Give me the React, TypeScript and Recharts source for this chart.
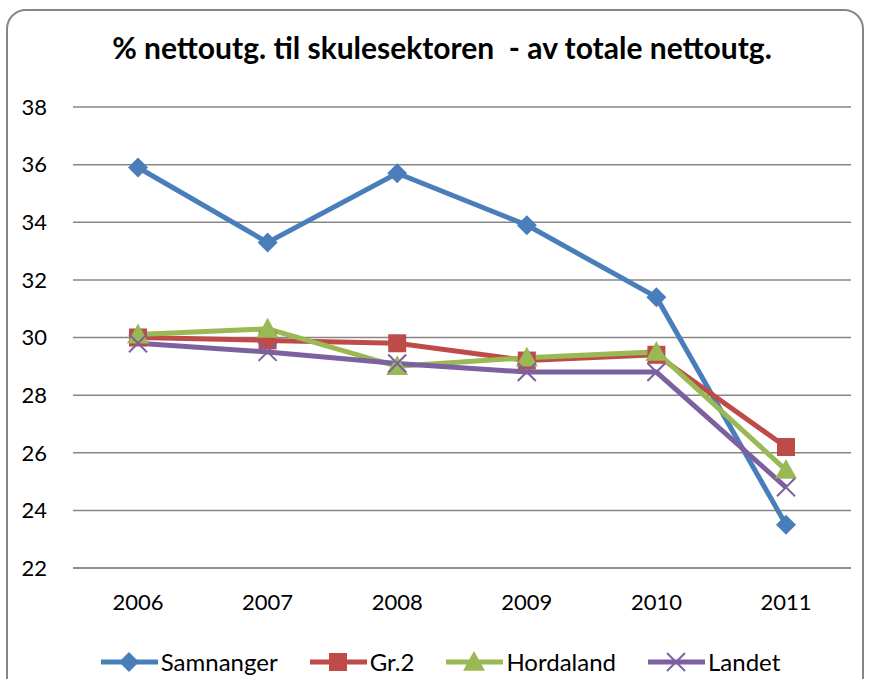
import React from 'react';
import { LineChart, Line, XAxis, YAxis, CartesianGrid, Legend } from 'recharts';

const years = ['2006', '2007', '2008', '2009', '2010', '2011'];
const samnanger = [35.9, 33.3, 35.7, 33.9, 31.4, 23.5];
const gr2 = [30.0, 29.9, 29.8, 29.2, 29.4, 26.2];
const hordaland = [30.1, 30.3, 29.0, 29.3, 29.5, 25.4];
const landet = [29.8, 29.5, 29.1, 28.8, 28.8, 24.8];
const yTicks = [22, 24, 26, 28, 30, 32, 34, 36, 38];

const seriesNames = ['Samnanger', 'Gr.2', 'Hordaland', 'Landet'];
const seriesKeys = ['samnanger', 'gr2', 'hordaland', 'landet'];
const seriesColors = ['#4A7EBB', '#BE4B48', '#98B954', '#7D60A0'];
const markerTypes = ['diamond', 'square', 'triangle', 'cross'];

const data = years.map((y, i) => ({
  year: y,
  samnanger: samnanger[i],
  gr2: gr2[i],
  hordaland: hordaland[i],
  landet: landet[i],
}));

const FONT = 'Lato, "Open Sans", sans-serif';

function Marker({ type, cx, cy, color }: { type: string; cx: number; cy: number; color: string }) {
  if (cx == null || cy == null) return null;
  if (type === 'diamond') {
    const s = 10;
    return <polygon points={`${cx},${cy - s} ${cx + s},${cy} ${cx},${cy + s} ${cx - s},${cy}`} fill={color} />;
  }
  if (type === 'square') {
    const s = 9;
    return <rect x={cx - s} y={cy - s} width={2 * s} height={2 * s} fill={color} />;
  }
  if (type === 'triangle') {
    const s = 11;
    return <polygon points={`${cx},${cy - s} ${cx + s},${cy + s * 0.8} ${cx - s},${cy + s * 0.8}`} fill={color} />;
  }
  const s = 9;
  return (
    <g stroke={color} strokeWidth={2}>
      <line x1={cx - s} y1={cy - s} x2={cx + s} y2={cy + s} />
      <line x1={cx - s} y1={cy + s} x2={cx + s} y2={cy - s} />
    </g>
  );
}

const makeDot = (idx: number) => (props: any) => (
  <Marker key={`${idx}-${props.index}`} type={markerTypes[idx]} cx={props.cx} cy={props.cy} color={seriesColors[idx]} />
);

function LegendContent() {
  return (
    <div style={{ display: 'flex', justifyContent: 'center', alignItems: 'center', fontFamily: FONT, fontSize: 24, lineHeight: '30px', color: '#000', paddingLeft: 30 }}>
      {seriesNames.map((n, i) => (
        <div key={n} style={{ display: 'flex', alignItems: 'center', marginRight: i < 3 ? 32 : 0 }}>
          <svg width={57} height={24}>
            <line x1={0} y1={12} x2={57} y2={12} stroke={seriesColors[i]} strokeWidth={5} />
            <Marker type={markerTypes[i]} cx={28} cy={12} color={seriesColors[i]} />
          </svg>
          <span style={{ marginLeft: 3 }}>{n}</span>
        </div>
      ))}
    </div>
  );
}

export default function App() {
  return (
    <div style={{ position: 'absolute', left: 0, top: 0, width: 871, height: 679, background: '#fff', overflow: 'hidden' }}>
      <div
        style={{
          position: 'absolute',
          left: 6,
          top: 9,
          width: 858,
          height: 690,
          border: '2px solid #868686',
          borderRadius: 20,
          boxSizing: 'border-box',
        }}
      />
      <div
        style={{
          position: 'absolute',
          left: 0,
          width: 884,
          top: 29,
          textAlign: 'center',
          fontFamily: FONT,
          fontWeight: 700,
          fontSize: 30,
          lineHeight: 1.2,
          color: '#000',
          whiteSpace: 'pre',
        }}
      >
        {'% nettoutg. til skulesektoren  - av totale nettoutg.'}
      </div>
      <div style={{ position: 'absolute', left: 0, top: 0 }}>
        <LineChart width={871} height={679} data={data} margin={{ top: 107, right: 20, bottom: 0, left: 0 }}>
          <CartesianGrid horizontal vertical={false} stroke="#868686" strokeWidth={1.5} />
          <XAxis
            dataKey="year"
            padding={{ left: 65, right: 65 }}
            axisLine={{ stroke: '#868686', strokeWidth: 1.5 }}
            tickLine={false}
            tickSize={0}
            tickMargin={26}
            height={79}
            tick={{ fill: '#000', fontSize: 22, fontFamily: FONT }}
            interval={0}
          />
          <YAxis
            domain={[22, 38]}
            ticks={yTicks}
            width={73}
            axisLine={false}
            tickLine={false}
            tickSize={0}
            tickMargin={26}
            tick={{ fill: '#000', fontSize: 22, fontFamily: FONT }}
            interval={0}
          />
          <Legend verticalAlign="bottom" height={32} content={() => <LegendContent />} />
          {seriesKeys.map((k, i) => (
            <Line
              key={k}
              type="linear"
              dataKey={k}
              name={seriesNames[i]}
              stroke={seriesColors[i]}
              strokeWidth={5}
              dot={makeDot(i)}
              activeDot={false}
              isAnimationActive={false}
            />
          ))}
        </LineChart>
      </div>
    </div>
  );
}
